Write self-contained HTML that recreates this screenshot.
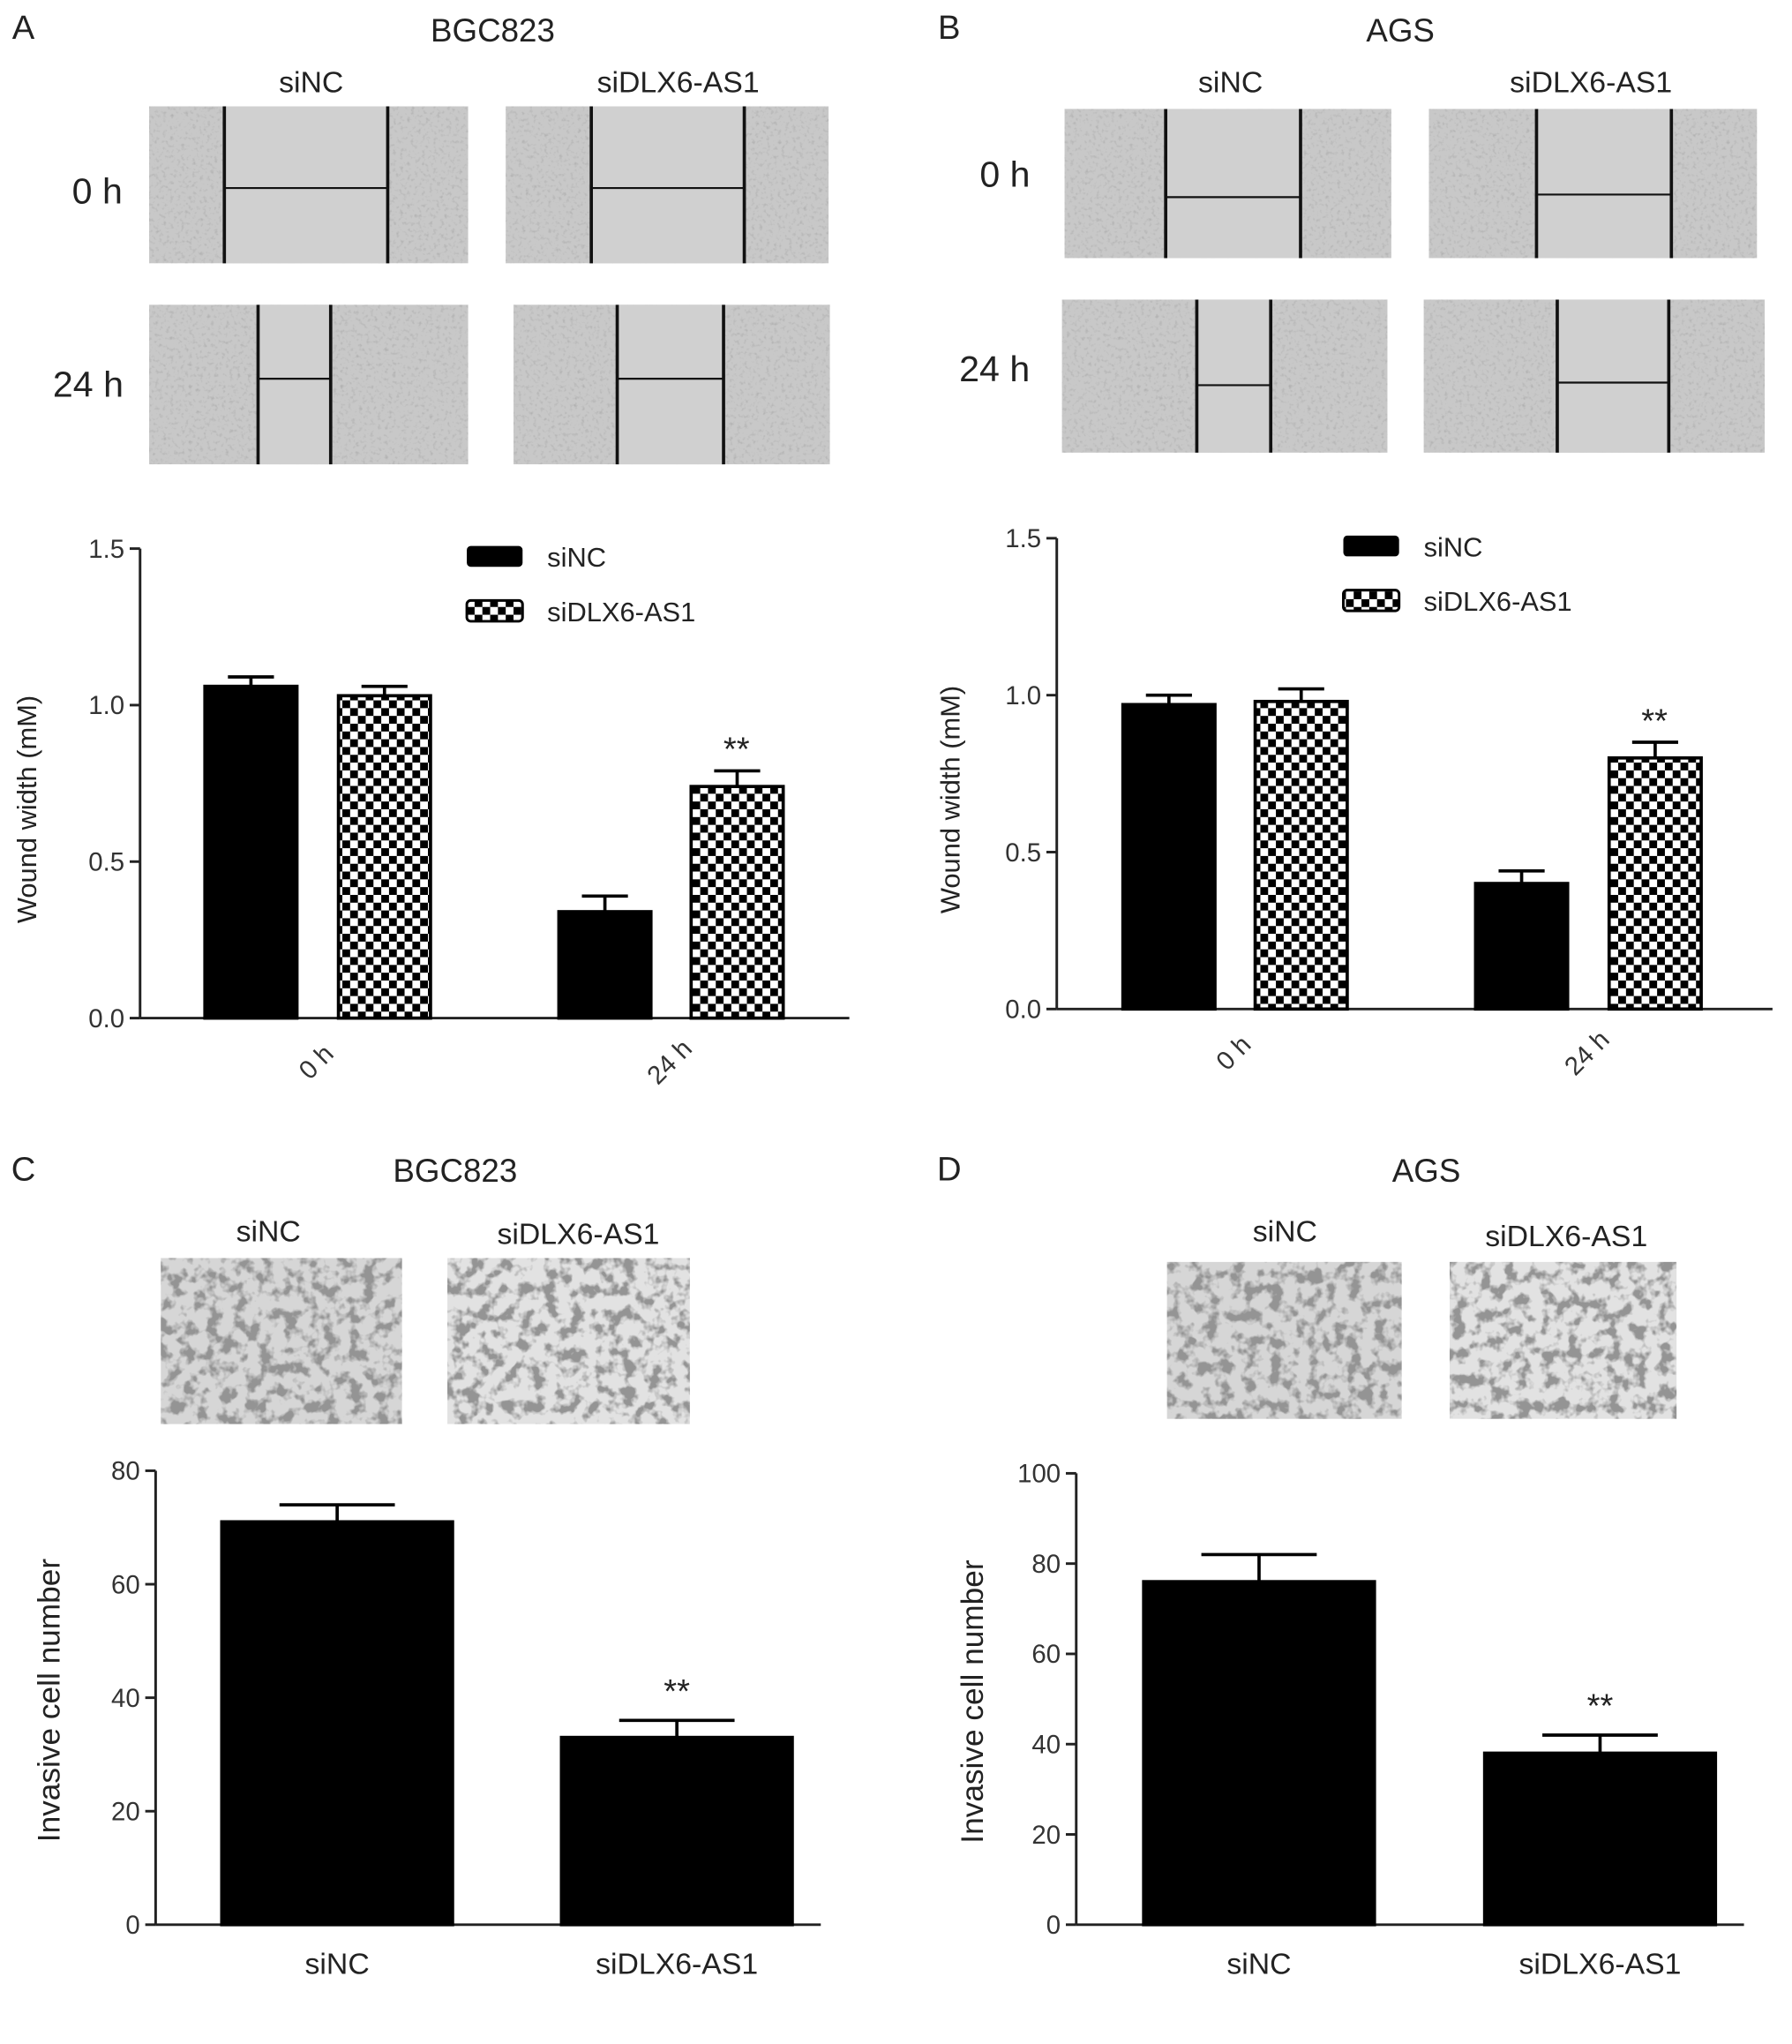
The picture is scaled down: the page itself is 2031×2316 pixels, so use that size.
<!DOCTYPE html>
<html><head><meta charset="utf-8"><style>
html,body{margin:0;padding:0;background:#fff}
svg{display:block;font-family:"Liberation Sans",sans-serif}
</style></head><body>
<svg id="fig" width="2031" height="2316" viewBox="0 0 1382 1576" xmlns="http://www.w3.org/2000/svg">
<defs>
<pattern id="chk" width="12" height="12" patternUnits="userSpaceOnUse">
<rect width="12" height="12" fill="#fff"/><rect width="6" height="6" fill="#000"/><rect x="6" y="6" width="6" height="6" fill="#000"/>
</pattern>
<filter id="tex" x="0" y="0" width="100%" height="100%">
<feTurbulence type="fractalNoise" baseFrequency="0.35" numOctaves="2" seed="3"/>
<feColorMatrix type="matrix" values="0 0 0 0 0.35  0 0 0 0 0.35  0 0 0 0 0.35  0 0 0 -1.6 0.75"/>
<feComposite in2="SourceGraphic" operator="in"/>
<feMerge><feMergeNode in="SourceGraphic"/><feMergeNode/></feMerge>
</filter>
<filter id="cells" x="0" y="0" width="100%" height="100%">
<feTurbulence type="fractalNoise" baseFrequency="0.1" numOctaves="3" seed="7"/>
<feColorMatrix type="matrix" values="0 0 0 0 0.3  0 0 0 0 0.3  0 0 0 0 0.3  0 0 0 -5 2.7"/>
<feComposite in2="SourceGraphic" operator="in"/>
<feMerge><feMergeNode in="SourceGraphic"/><feMergeNode/></feMerge>
</filter>
</defs>
<g id="root" font-size="21" fill="#222"></g>
</svg>
<script>
// ---- chart data ----
const catsAB = ['0 h', '24 h'];
const seriesNames = ['siNC', 'siDLX6-AS1'];
const aSiNC = [1.06, 0.34];
const aSiNCErr = [0.03, 0.05];
const aSiDLX = [1.03, 0.74];
const aSiDLXErr = [0.03, 0.05];
const bSiNC = [0.97, 0.40];
const bSiNCErr = [0.03, 0.04];
const bSiDLX = [0.98, 0.80];
const bSiDLXErr = [0.04, 0.05];
const ticksAB = [0.0, 0.5, 1.0, 1.5];
const catsCD = ['siNC', 'siDLX6-AS1'];
const cVals = [71, 33];
const cErr = [3, 3];
const ticksC = [0, 20, 40, 60, 80];
const dVals = [76, 38];
const dErr = [6, 4];
const ticksD = [0, 20, 40, 60, 80, 100];

const NS = 'http://www.w3.org/2000/svg';
const root = document.getElementById('root');
function el(tag, attrs, parent, text) {
  const e = document.createElementNS(NS, tag);
  for (const k in attrs) e.setAttribute(k, attrs[k]);
  if (text !== undefined) e.textContent = text;
  (parent || root).appendChild(e);
  return e;
}
function txt(x, y, s, name, size, anchor, extra) {
  const t = el('text', Object.assign({x: x, y: y, 'font-size': size || 21, 'text-anchor': anchor || 'middle', fill: '#222'}, extra || {}), root, s);
  
  
  return t;
}
function micro(x, y, w, h, lines, hy, name) {
  const g = el('g', {});
  
  
  el('rect', {x: x, y: y, width: w, height: h, fill: '#c8c8c8', filter: 'url(#tex)'}, g);
  el('rect', {x: lines[0], y: y, width: lines[1] - lines[0], height: h, fill: '#d0d0d0'}, g);
  el('line', {x1: lines[0], y1: y, x2: lines[0], y2: y + h, stroke: '#111', 'stroke-width': 2.5}, g);
  el('line', {x1: lines[1], y1: y, x2: lines[1], y2: y + h, stroke: '#111', 'stroke-width': 2.5}, g);
  el('line', {x1: lines[0], y1: hy, x2: lines[1], y2: hy, stroke: '#111', 'stroke-width': 1.5}, g);
}
function inv(x, y, w, h, name, light) {
  const r = el('rect', {x: x, y: y, width: w, height: h, fill: light ? '#e2e2e2' : '#d6d6d6', filter: 'url(#cells)'});
  
  
}
function axis(ax, ticks, fmt, name) {
  const g = el('g', {});
  
  
  el('line', {x1: ax.x0, y1: ax.yTop, x2: ax.x0, y2: ax.yBot, stroke: '#222', 'stroke-width': 2}, g);
  el('line', {x1: ax.x0, y1: ax.yBot, x2: ax.x1, y2: ax.yBot, stroke: '#222', 'stroke-width': 2}, g);
  ticks.forEach(v => {
    const y = ax.y(v);
    el('line', {x1: ax.x0 - 8, y1: y, x2: ax.x0, y2: y, stroke: '#222', 'stroke-width': 2}, g);
    const t = el('text', {x: ax.x0 - 12, y: y + 7, 'text-anchor': 'end', 'font-size': 20, fill: '#333'}, g, fmt(v));
    
    
  });
}
function bar(ax, x, w, v, e, fill, name) {
  const g = el('g', {});
  
  
  const cx = x + w / 2, yv = ax.y(v), ye = ax.y(v + e);
  el('line', {x1: cx, y1: yv, x2: cx, y2: ye, stroke: '#000', 'stroke-width': 2.5}, g);
  el('line', {x1: cx - w * 0.25, y1: ye, x2: cx + w * 0.25, y2: ye, stroke: '#000', 'stroke-width': 2.5}, g);
  el('rect', {x: x, y: yv, width: w, height: ax.yBot - yv, fill: fill, stroke: '#000', 'stroke-width': 2.5}, g);
  return ye;
}
function mkAx(x0, x1, yTop, yBot, max) {
  return {x0: x0, x1: x1, yTop: yTop, yBot: yBot, y: v => yBot - v / max * (yBot - yTop)};
}

// ---- Panel A ----
txt(18, 30, 'A', 'panel-label-a', 26, 'middle');
txt(380, 32, 'BGC823', 'title-a', 25);
txt(240, 71, 'siNC', 'col-label-sinc', 23);
txt(523, 71, 'siDLX6-AS1', 'col-label-sidlx', 23);
txt(75, 157, '0 h', 'row-label-0h', 28);
txt(68, 306, '24 h', 'row-label-24h', 28);
micro(115, 82, 246, 121, [173, 299], 145, 'wound-image-a-sinc-0h');
micro(390, 82, 249, 121, [456, 574], 145, 'wound-image-a-sidlx-0h');
micro(115, 235, 246, 123, [199, 255], 292, 'wound-image-a-sinc-24h');
micro(396, 235, 244, 123, [476, 558], 292, 'wound-image-a-sidlx-24h');
// ---- Panel B ----
txt(732, 30, 'B', 'panel-label-b', 26, 'middle');
txt(1080, 32, 'AGS', 'title-b', 25);
txt(949, 71, 'siNC', 'col-label-sinc', 23);
txt(1227, 71, 'siDLX6-AS1', 'col-label-sidlx', 23);
txt(775, 144, '0 h', 'row-label-0h', 28);
txt(767, 294, '24 h', 'row-label-24h', 28);
micro(821, 84, 252, 115, [899, 1003], 152, 'wound-image-b-sinc-0h');
micro(1102, 84, 253, 115, [1185, 1289], 150, 'wound-image-b-sidlx-0h');
micro(819, 231, 251, 118, [923, 980], 297, 'wound-image-b-sinc-24h');
micro(1098, 231, 263, 118, [1201, 1287], 295, 'wound-image-b-sidlx-24h');

function woundChart(ax, ncVals, ncErr, dlVals, dlErr, xs, legX, legY, tag, ylx) {
  axis(ax, ticksAB, v => v.toFixed(1), 'y-axis-' + tag);
  let topY = 0;
  catsAB.forEach((c, i) => {
    bar(ax, xs[i][0], 71, ncVals[i], ncErr[i], '#000', 'bar-' + tag + '-sinc-' + i);
    topY = bar(ax, xs[i][1], 71, dlVals[i], dlErr[i], 'url(#chk)', 'bar-' + tag + '-sidlx-' + i);
    const cx = (xs[i][0] + xs[i][1] + 71) / 2;
    const t = el('text', {x: cx, y: ax.yBot + 40, 'text-anchor': 'middle', 'font-size': 20, fill: '#333', transform: 'rotate(-45 ' + cx + ' ' + (ax.yBot + 35) + ')'}, root, c);
    
    
  });
  txt(xs[1][1] + 35, topY - 8, '**', 'significance-' + tag, 26);
  const l1 = el('rect', {x: legX, y: legY, width: 43, height: 16, rx: 3, fill: '#000'});
  
  
  txt(legX + 62, legY + 16, seriesNames[0], 'legend-label-sinc', 21, 'start');
  const l2 = el('rect', {x: legX, y: legY + 42, width: 43, height: 16, rx: 3, fill: 'url(#chk)', stroke: '#000', 'stroke-width': 2});
  
  
  txt(legX + 62, legY + 58, seriesNames[1], 'legend-label-sidlx', 21, 'start');
  const yl = (ax.yTop + ax.yBot) / 2 + 20;
  txt(ylx, yl, 'Wound width (mM)', 'y-axis-title-' + tag, 21, 'middle', {transform: 'rotate(-90 ' + ylx + ' ' + yl + ')'});
}
woundChart(mkAx(108, 655, 423, 785, 1.5), aSiNC, aSiNCErr, aSiDLX, aSiDLXErr, [[158, 261], [431, 533]], 360, 421, 'a', 28);
woundChart(mkAx(815, 1367, 415, 778, 1.5), bSiNC, bSiNCErr, bSiDLX, bSiDLXErr, [[866, 968], [1138, 1241]], 1036, 413, 'b', 740);

// ---- Panel C ----
txt(18, 910, 'C', 'panel-label-c', 26, 'middle');
txt(351, 911, 'BGC823', 'title-c', 25);
txt(207, 957, 'siNC', 'col-label-sinc', 23);
txt(446, 959, 'siDLX6-AS1', 'col-label-sidlx', 23);
inv(124, 970, 186, 128, 'invasion-image-c-sinc', false);
inv(345, 970, 187, 128, 'invasion-image-c-sidlx', true);
// ---- Panel D ----
txt(732, 910, 'D', 'panel-label-d', 26, 'middle');
txt(1100, 911, 'AGS', 'title-d', 25);
txt(991, 957, 'siNC', 'col-label-sinc', 23);
txt(1208, 961, 'siDLX6-AS1', 'col-label-sidlx', 23);
inv(900, 973, 181, 121, 'invasion-image-d-sinc', false);
inv(1118, 973, 175, 121, 'invasion-image-d-sidlx', true);

function invChart(ax, vals, errs, ticks, xs, tag, ylx) {
  axis(ax, ticks, v => String(v), 'y-axis-' + tag);
  let topY = 0;
  catsCD.forEach((c, i) => {
    topY = bar(ax, xs[i], 178, vals[i], errs[i], '#000', 'bar-' + tag + '-' + i);
    txt(xs[i] + 89, ax.yBot + 38, c, 'x-tick-label', 23);
  });
  txt(xs[1] + 89, topY - 14, '**', 'significance-' + tag, 26);
  const yl = (ax.yTop + ax.yBot) / 2 + 2;
  txt(ylx, yl, 'Invasive cell number', 'y-axis-title-' + tag, 24, 'middle', {transform: 'rotate(-90 ' + ylx + ' ' + yl + ')'});
}
invChart(mkAx(120, 633, 1134, 1484, 80), cVals, cErr, ticksC, [171, 433], 'c', 46);
invChart(mkAx(830, 1345, 1136, 1484, 100), dVals, dErr, ticksD, [882, 1145], 'd', 758);
</script>
</body></html>
